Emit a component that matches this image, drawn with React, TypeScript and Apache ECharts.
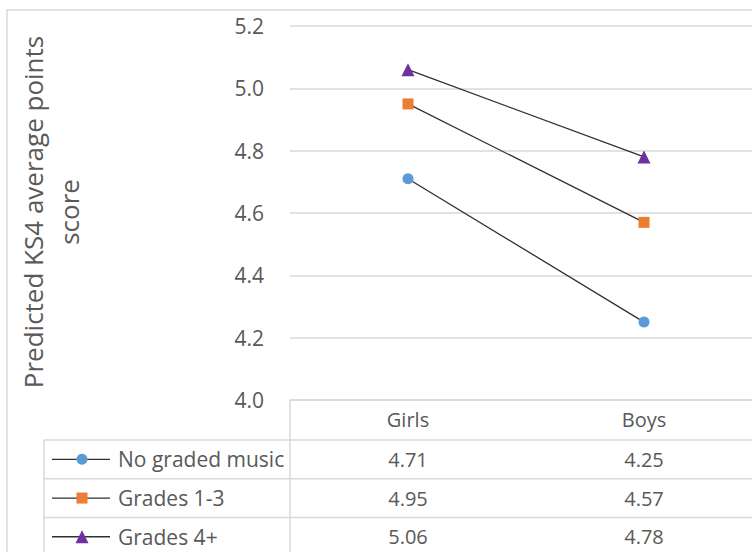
import React, { useEffect, useRef } from "react";
import * as echarts from "echarts";

// Chart data
const categories = ["Girls", "Boys"];
const seriesNames = ["No graded music", "Grades 1-3", "Grades 4+"];
const noGradedMusic = [4.71, 4.25];
const grades1to3 = [4.95, 4.57];
const grades4plus = [5.06, 4.78];
const yTicks = { min: 4.0, max: 5.2, step: 0.2 };
const yTitle = "Predicted KS4 average points\nscore";

// Presentation
const seriesValues = [noGradedMusic, grades1to3, grades4plus];
const seriesColors = ["#5b9bd5", "#ed7d31", "#7030a0"];
const seriesSymbols = ["circle", "rect", "triangle"];
const seriesSymbolSizes = [11, 11, 13];
const FONT = "'Open Sans', 'Noto Sans', sans-serif";
const TEXT = "#595959";
const RULE = "#d9d9d9";
const LINE = "#303030";

const GRID_LEFT = 290;
const GRID_TOP = 26;
const GRID_W = 472;
const GRID_H = 374;
const HEADER_H = 40;
const ROW_H = 38.7;
const TABLE_LEFT = 44;

export default function App() {
  const ref = useRef<HTMLDivElement>(null);

  useEffect(() => {
    const el = ref.current;
    if (!el) return;
    const chart = echarts.init(el, null, { renderer: "svg" });

    chart.setOption({
      animation: false,
      grid: { left: GRID_LEFT, top: GRID_TOP, width: GRID_W, height: GRID_H, containLabel: false },
      xAxis: {
        type: "category",
        data: categories,
        boundaryGap: true,
        axisLine: { show: true, lineStyle: { color: RULE, width: 1.5 } },
        axisTick: { show: false },
        axisLabel: { color: TEXT, fontFamily: FONT, fontSize: 20, margin: 9 },
        splitLine: { show: false },
      },
      yAxis: {
        type: "value",
        min: yTicks.min,
        max: yTicks.max,
        interval: yTicks.step,
        axisLine: { show: false },
        axisTick: { show: false },
        axisLabel: {
          color: TEXT,
          fontFamily: FONT,
          fontSize: 21,
          margin: 26,
          formatter: (v: number) => v.toFixed(1),
        },
        splitLine: { show: true, lineStyle: { color: RULE, width: 1.5 } },
      },
      series: seriesNames.map((name, i) => ({
        name,
        type: "line",
        data: seriesValues[i],
        symbol: seriesSymbols[i],
        symbolSize: seriesSymbolSizes[i],
        showAllSymbol: true,
        itemStyle: { color: seriesColors[i], borderWidth: 0 },
        lineStyle: { color: LINE, width: 1.3 },
        z: 3 + i,
      })),
    });

    // Data table beneath the plot, aligned with the category axis
    const axisY = chart.convertToPixel({ yAxisIndex: 0 }, yTicks.min) as number;
    const colX = categories.map((c) => chart.convertToPixel({ xAxisIndex: 0 }, c) as number);
    const rowTop = (i: number) => axisY + HEADER_H + i * ROW_H;
    const graphic: any[] = [];

    graphic.push({
      type: "rect",
      silent: true,
      z: -10,
      shape: { x: 7, y: 10, width: 900, height: 700 },
      style: { fill: "none", stroke: RULE, lineWidth: 1.5 },
    });

    graphic.push({
      type: "text",
      x: 51,
      y: GRID_TOP + GRID_H / 2 - 1,
      rotation: Math.PI / 2,
      style: {
        text: yTitle,
        font: `26px ${FONT}`,
        fill: TEXT,
        align: "center",
        verticalAlign: "middle",
        lineHeight: 36,
      },
    });

    for (let i = 0; i <= seriesNames.length; i++) {
      graphic.push({
        type: "line",
        silent: true,
        shape: { x1: TABLE_LEFT, y1: rowTop(i), x2: 900, y2: rowTop(i) },
        style: { stroke: RULE, lineWidth: 1.5 },
      });
    }
    graphic.push({
      type: "line",
      silent: true,
      shape: { x1: TABLE_LEFT, y1: rowTop(0), x2: TABLE_LEFT, y2: 700 },
      style: { stroke: RULE, lineWidth: 1.5 },
    });
    graphic.push({
      type: "line",
      silent: true,
      shape: { x1: GRID_LEFT, y1: axisY, x2: GRID_LEFT, y2: 700 },
      style: { stroke: RULE, lineWidth: 1.5 },
    });

    seriesNames.forEach((name, i) => {
      const cy = rowTop(i) + ROW_H / 2;
      const kx = 82;
      graphic.push({
        type: "line",
        silent: true,
        shape: { x1: 52, y1: cy, x2: 110, y2: cy },
        style: { stroke: LINE, lineWidth: 1.3 },
      });
      const s = seriesSymbolSizes[i];
      if (seriesSymbols[i] === "circle") {
        graphic.push({ type: "circle", shape: { cx: kx, cy, r: s / 2 }, style: { fill: seriesColors[i] } });
      } else if (seriesSymbols[i] === "rect") {
        graphic.push({ type: "rect", shape: { x: kx - s / 2, y: cy - s / 2, width: s, height: s }, style: { fill: seriesColors[i] } });
      } else {
        graphic.push({
          type: "polygon",
          shape: { points: [[kx, cy - s / 2], [kx + s / 2, cy + s / 2], [kx - s / 2, cy + s / 2]] },
          style: { fill: seriesColors[i] },
        });
      }
      graphic.push({
        type: "text",
        x: 118,
        y: cy,
        style: { text: name, font: `21px ${FONT}`, fill: TEXT, align: "left", verticalAlign: "middle" },
      });
      seriesValues[i].forEach((v, j) => {
        graphic.push({
          type: "text",
          x: colX[j],
          y: cy,
          style: { text: v.toFixed(2), font: `20px ${FONT}`, fill: TEXT, align: "center", verticalAlign: "middle" },
        });
      });
    });

    chart.setOption({ graphic });

    return () => chart.dispose();
  }, []);

  // The chart canvas runs past the right edge of the view; the outer box clips it
  return (
    <div
      style={{ position: "fixed", left: 0, top: 0, width: 752, height: 552, overflow: "hidden", background: "#fff" }}
    >
      <div ref={ref} style={{ position: "absolute", left: 0, top: 0, width: 800, height: 600 }} />
    </div>
  );
}
